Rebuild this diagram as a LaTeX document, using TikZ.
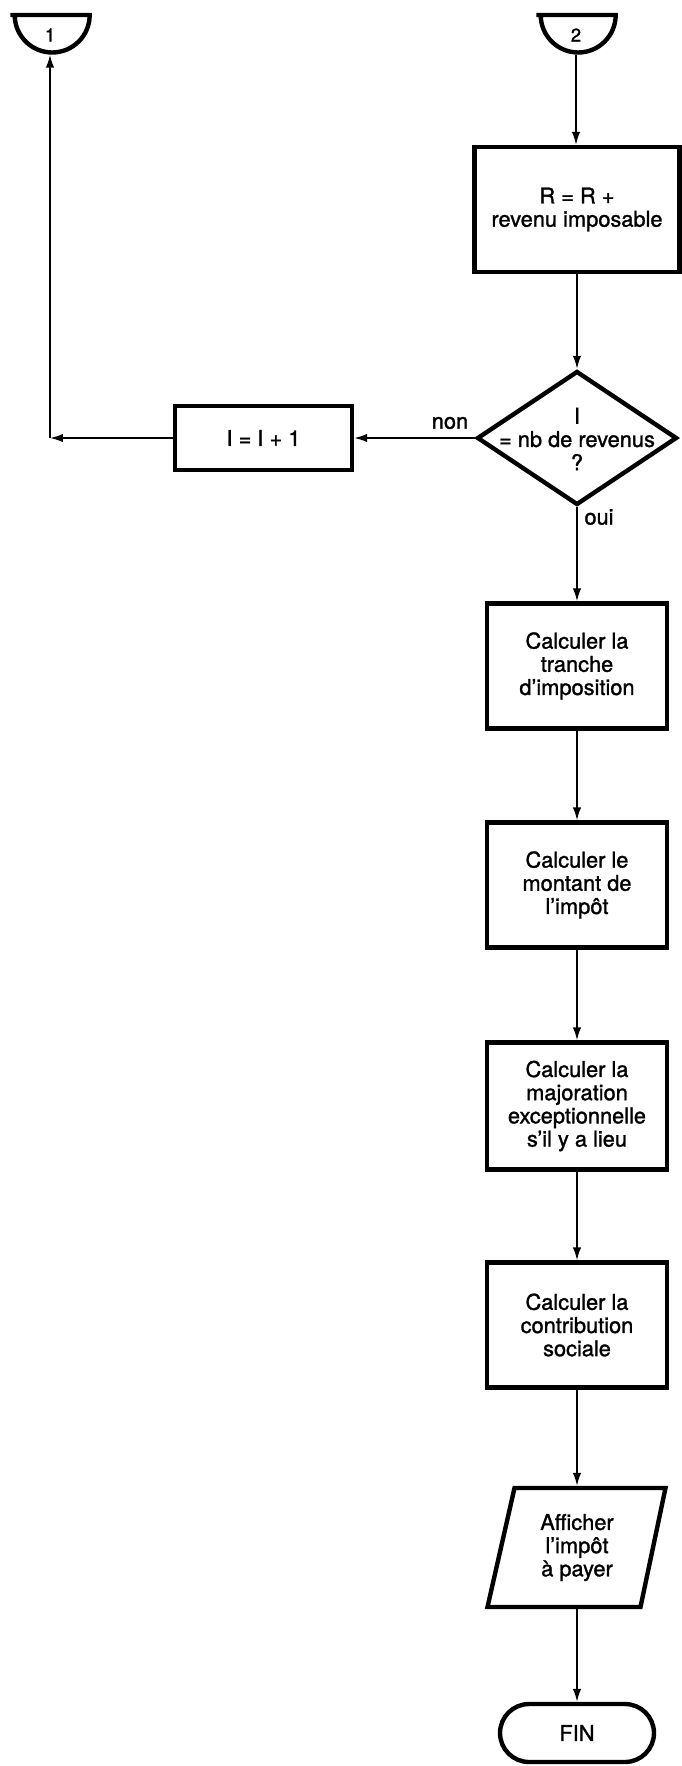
\documentclass[tikz,border=0pt]{standalone}
\usepackage{fontspec}
\setmainfont{TeX Gyre Heros}
\newfontfamily\heavyish{TeX Gyre Heros}[FakeBold=1.3]
\usetikzlibrary{arrows.meta,shapes.geometric,calc}

\begin{document}
\begin{tikzpicture}[
  x=0.02cm, y=-0.02cm,
  txt/.style={font=\heavyish\fontsize{12.4}{13.2}\selectfont, inner sep=0pt, align=center},
  ink/.style={line width=2.5pt, line join=miter},
  proc/.style={txt, draw, ink, minimum width=3.6cm, minimum height=2.5cm},
  conn/.style={circle, minimum size=1.5cm, inner sep=0pt, outer sep=1.25pt},
  connlabel/.style={font=\heavyish\fontsize{10.5}{11}\selectfont, inner sep=0pt},
  flow/.style={line width=1pt, -{Latex[length=2.6mm,width=1.7mm]}},
]
\useasboundingbox[fill=white] (0,0) rectangle (682,1766);

% off-page connectors
\node[conn] (c1) at (50,15) {};
\draw[ink] (c1.west) -- (c1.east) arc[start angle=0, end angle=-180, radius=0.75cm] -- cycle;
\node[connlabel] (c1t) at (50,35) {1};

\node[conn] (c2) at (576,15) {};
\draw[ink] (c2.west) -- (c2.east) arc[start angle=0, end angle=-180, radius=0.75cm] -- cycle;
\node[connlabel] (c2t) at (576,35) {2};

% accumulate and test
\node[proc, minimum width=4.1cm] (r) at (577,209.5) {R = R +\\revenu imposable};
\node[diamond, draw, ink, minimum width=4.0cm, minimum height=2.68cm, inner sep=0pt] (d) at (577,438) {};
\node[txt] (dt) at (577,439) {I\\= nb de revenus\\?};
\node[proc, minimum width=3.54cm, minimum height=1.28cm] (inc) at (263.5,438) {I = I + 1};
\coordinate (corner) at (50,438);

% computation steps
\node[proc] (t1) at (577,666) {Calculer la\\tranche\\d’imposition};
\node[proc] (t2) at (577,885) {Calculer le\\montant de\\l’impôt};
\node[proc, minimum height=2.54cm] (t3) at (577,1106) {Calculer la\\majoration\\exceptionnelle\\s’il y a lieu};
\node[proc] (t4) at (577,1325) {Calculer la\\contribution\\sociale};

% output
\node[txt, minimum width=3.06cm, minimum height=2.38cm, outer sep=1.25pt] (aff) at (577,1547.5) {Afficher\\l’impôt\\à payer};
\draw[ink] ($(aff.center)+(-62.5,-59.5)$) -- ($(aff.center)+(88.5,-59.5)$)
  -- ($(aff.center)+(63.5,59.5)$) -- ($(aff.center)+(-89.5,59.5)$) -- cycle;

% end
\node[txt, draw, ink, rounded corners=0.58cm, minimum width=3.08cm, minimum height=1.16cm] (fin) at (577,1733) {FIN};

% connectors
\draw[flow] (c2.south) -- (c2.south |- r.north);
\draw[flow] (r.south) -- (d.north);
\draw[flow] (d.west) -- (inc.east);
\draw[flow] (inc.west) -- (corner);
\draw[flow] (corner) -- (c1.south);
\draw[flow] (d.south) -- (t1.north);
\draw[flow] (t1.south) -- (t2.north);
\draw[flow] (t2.south) -- (t3.north);
\draw[flow] (t3.south) -- (t4.north);
\draw[flow] (t4.south) -- (aff.north);
\draw[flow] (aff.south) -- (fin.north);

% branch labels
\node[txt] (non) at (450,423) {non};
\node[txt] (oui) at (599,517) {oui};
\end{tikzpicture}
\end{document}
